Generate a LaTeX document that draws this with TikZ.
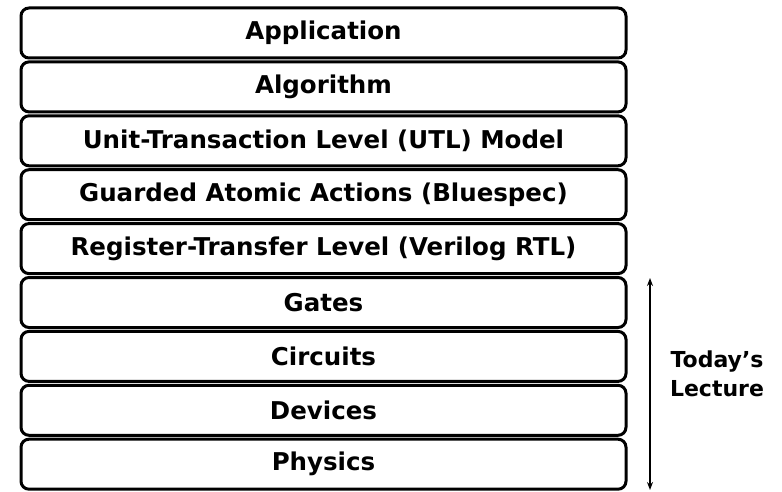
\documentclass[tikz,border=0pt]{standalone}
\usepackage{fontspec}
\setmainfont{DejaVu Sans}
\usetikzlibrary{arrows.meta}
\begin{document}
\begin{tikzpicture}[x=1pt,y=-1pt,
  layer/.style={draw=black, line width=3pt, rounded corners=8pt, fill=white,
    minimum width=605pt, minimum height=50pt, inner sep=0pt,
    font=\fontsize{24.5}{28}\selectfont\bfseries},
  note/.style={font=\fontsize{22}{29}\selectfont\bfseries, align=center, inner sep=0pt}]
  \useasboundingbox (0,0) rectangle (782,492);
  \foreach \name/\txt [count=\i from 0] in {
    app/Application,
    alg/Algorithm,
    utl/Unit-Transaction Level (UTL) Model,
    gaa/Guarded Atomic Actions (Bluespec),
    rtl/Register-Transfer Level (Verilog RTL),
    gat/Gates,
    cir/Circuits,
    dev/Devices,
    phy/Physics}
    \node[layer] (\name) at (323.5, 33+53.9*\i) {\txt};
  \coordinate (top) at (650,278);
  \coordinate (bot) at (650,490);
  \draw[line width=1.5pt, {Stealth[length=8pt,width=6pt]}-{Stealth[length=8pt,width=6pt]}] (top) -- (bot);
  \node[note] (lec) at (717,374) {Today's\\Lecture};
\end{tikzpicture}
\end{document}
